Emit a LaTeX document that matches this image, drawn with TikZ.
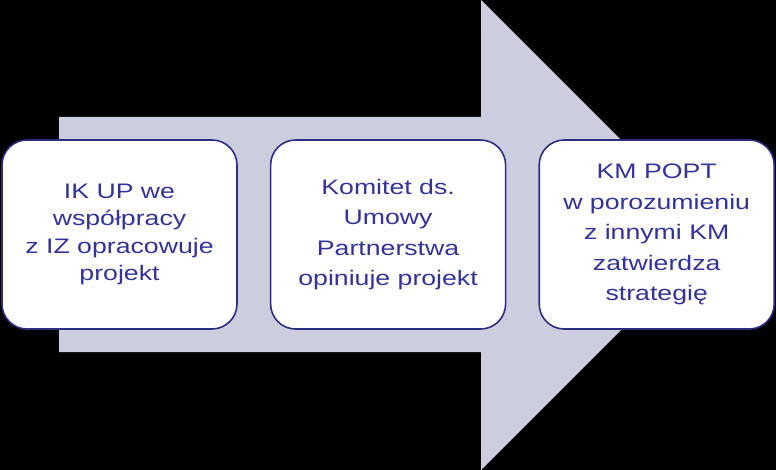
\documentclass[tikz,border=0pt]{standalone}
\usepackage{fontspec}
\setmainfont{Liberation Sans}[FakeStretch=1.27]
\usepackage{xcolor}
\definecolor{ArrowLilac}{HTML}{CDCDE0}
\definecolor{BoxBorder}{HTML}{2E2E80}
\definecolor{BoxText}{HTML}{33339A}
\usepackage{tikz}
\usetikzlibrary{positioning}

\begin{document}
\begin{tikzpicture}[x=1pt,y=-1pt,
  stepbox/.style={draw=BoxBorder,line width=1.6pt,fill=white,rounded corners=25pt,align=center,text=BoxText,
    minimum width=235pt,minimum height=189pt,inner sep=4pt,font=\fontsize{21}{30.5}\selectfont}
]
  \fill[black] (0,0) rectangle (776,470);
  \useasboundingbox (0,0) rectangle (776,470);
  % big arrow behind the boxes
  \fill[ArrowLilac] (59,117) -- (481,117) -- (481,0) -- (716,235) -- (481,470) -- (481,352) -- (59,352) -- cycle;
  \node[stepbox,font=\fontsize{21}{27.5}\selectfont] (ikup) at (119.5,234.5) {IK UP we\\współpracy\\z IZ opracowuje\\projekt};
  \node[stepbox,right=32pt of ikup] (komitet) {Komitet ds.\\Umowy\\Partnerstwa\\opiniuje projekt};
  \node[stepbox,right=32pt of komitet] (kmpopt) {KM POPT\\w porozumieniu\\z innymi KM\\zatwierdza\\strategię};
\end{tikzpicture}
\end{document}
